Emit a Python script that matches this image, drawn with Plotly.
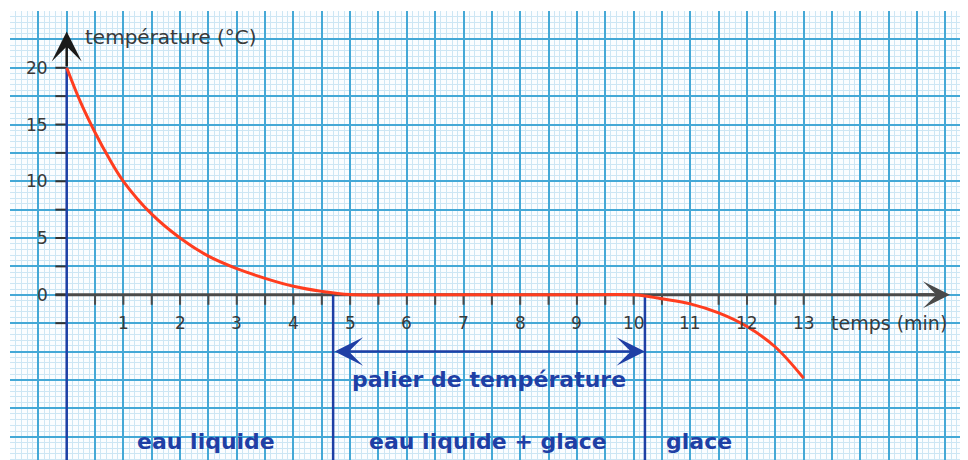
import numpy as np
import plotly.graph_objects as go

# ---- data ----
time_min = [0, 0.25, 0.5, 0.75, 1, 1.5, 2, 2.5, 3, 3.5, 4, 4.5, 5, 6, 7, 8, 9, 10,
            10.2, 10.5, 11, 11.5, 12, 12.5, 13]
temperature_c = [20, 16.9, 14.3, 12.0, 10, 7.1, 5, 3.4, 2.3, 1.45, 0.75, 0.3, 0.02, 0, 0, 0, 0, 0,
                 -0.1, -0.35, -0.8, -1.6, -2.8, -4.6, -7.35]

phase_boundaries = [0, 4.7, 10.2]
phase_names = ["eau liquide", "eau liquide + glace", "glace"]
phase_label_x = [2.45, 7.43, 11.15]

plateau_start = 4.7
plateau_end = 10.2
plateau_level = -5
plateau_label = "palier de température"

x_tick_values = [1, 2, 3, 4, 5, 6, 7, 8, 9, 10, 11, 12, 13]
x_tick_labels = ["1", "2", "3", "4", "5", "6", "7", "8", "9", "10", "11", "12", "13"]
y_tick_values = [0, 5, 10, 15, 20]
y_tick_labels = ["0", "5", "10", "15", "20"]

x_title = "temps (min)"
y_title = "température (°C)"

# ---- layout constants ----
X_RANGE = [-1.0, 16.04]
Y_RANGE = [-15.26, 25.0]
BLUE = "#1f3fa5"
RED = "#ff3d1f"
AXIS_GRAY = "#4a4a4a"
TEXT_GRAY = "#3a3a3a"
FONT = "DejaVu Sans"

fig = go.Figure()

# x axis line (gray)
fig.add_trace(go.Scatter(x=[-0.2, 15.3], y=[0, 0], mode="lines",
                         line=dict(color=AXIS_GRAY, width=3), hoverinfo="skip"))

# x ticks every half minute, pointing down
minor_x = np.arange(0.5, 13.01, 0.5)
tx, ty = [], []
for v in minor_x:
    tx += [v, v, None]
    ty += [0, -0.88, None]
fig.add_trace(go.Scatter(x=tx, y=ty, mode="lines",
                         line=dict(color=AXIS_GRAY, width=2), hoverinfo="skip"))

# y ticks every 2.5 degrees, pointing left
minor_y = np.arange(-2.5, 20.01, 2.5)
ux, uy = [], []
for v in minor_y:
    ux += [-0.2, 0, None]
    uy += [v, v, None]
fig.add_trace(go.Scatter(x=ux, y=uy, mode="lines",
                         line=dict(color="#333333", width=2), hoverinfo="skip"))

# blue phase boundary lines
for i, b in enumerate(phase_boundaries):
    top = temperature_c[0] if i == 0 else 0
    fig.add_trace(go.Scatter(x=[b, b], y=[top, Y_RANGE[0] - 1], mode="lines",
                             line=dict(color=BLUE, width=2.5), hoverinfo="skip"))

# temperature curve
fig.add_trace(go.Scatter(x=time_min, y=temperature_c, mode="lines",
                         line=dict(color=RED, width=3, shape="spline", smoothing=1.0),
                         hoverinfo="skip"))

annotations = []
# y-axis arrow
annotations.append(dict(x=0, y=23.2, ax=0, ay=temperature_c[0], xref="x", yref="y",
                        axref="x", ayref="y", text="", showarrow=True,
                        arrowhead=3, arrowsize=2.0, arrowwidth=2.5, arrowcolor="#1a1a1a"))
# x-axis arrow
annotations.append(dict(x=15.58, y=0, ax=15.0, ay=0, xref="x", yref="y",
                        axref="x", ayref="y", text="", showarrow=True,
                        arrowhead=3, arrowsize=1.5, arrowwidth=3, arrowcolor=AXIS_GRAY))
# plateau double arrow
annotations.append(dict(x=plateau_end, y=plateau_level, ax=plateau_start, ay=plateau_level,
                        xref="x", yref="y", axref="x", ayref="y", text="", showarrow=True,
                        arrowside="end+start", arrowhead=3, startarrowhead=3,
                        arrowsize=1.9, startarrowsize=1.9, arrowwidth=2.5, arrowcolor=BLUE))
# plateau label
annotations.append(dict(x=(plateau_start + plateau_end) / 2, y=-7.5, xref="x", yref="y",
                        text=plateau_label, showarrow=False,
                        font=dict(family=FONT, size=22, color=BLUE, weight="bold")))
# phase labels
for name, px in zip(phase_names, phase_label_x):
    annotations.append(dict(x=px, y=-12.95, xref="x", yref="y", text=name, showarrow=False,
                            font=dict(family=FONT, size=22, color=BLUE, weight="bold")))
# tick labels
for v, lab in zip(x_tick_values, x_tick_labels):
    annotations.append(dict(x=v, y=-2.45, xref="x", yref="y", text=lab, showarrow=False,
                            font=dict(family=FONT, size=17, color=TEXT_GRAY)))
for v, lab in zip(y_tick_values, y_tick_labels):
    annotations.append(dict(x=-0.3, y=v, xref="x", yref="y", text=lab, showarrow=False,
                            xanchor="right", font=dict(family=FONT, size=17, color=TEXT_GRAY)))
# axis titles
annotations.append(dict(x=13.45, y=-2.45, xref="x", yref="y", text=x_title, showarrow=False,
                        xanchor="left", font=dict(family=FONT, size=19, color=TEXT_GRAY)))
annotations.append(dict(x=0.28, y=22.7, xref="x", yref="y", text=y_title, showarrow=False,
                        xanchor="left", font=dict(family=FONT, size=20, color=TEXT_GRAY)))

grid_common = dict(showticklabels=False, ticks="", zeroline=False, showline=False,
                   fixedrange=True, gridcolor="#45a8d6", gridwidth=2)

fig.update_layout(
    width=968, height=460,
    margin=dict(l=2, r=0, t=3, b=0),
    paper_bgcolor="white", plot_bgcolor="#fbfdff",
    showlegend=False,
    annotations=annotations,
    xaxis=dict(range=X_RANGE, dtick=0.5, tick0=0,
               minor=dict(dtick=0.1, tick0=0, showgrid=True, gridcolor="#cde6f4", gridwidth=1),
               **grid_common),
    yaxis=dict(range=Y_RANGE, dtick=2.5, tick0=0,
               minor=dict(dtick=0.5, tick0=0, showgrid=True, gridcolor="#cde6f4", gridwidth=1),
               **grid_common),
)

fig.write_html("out.html")
